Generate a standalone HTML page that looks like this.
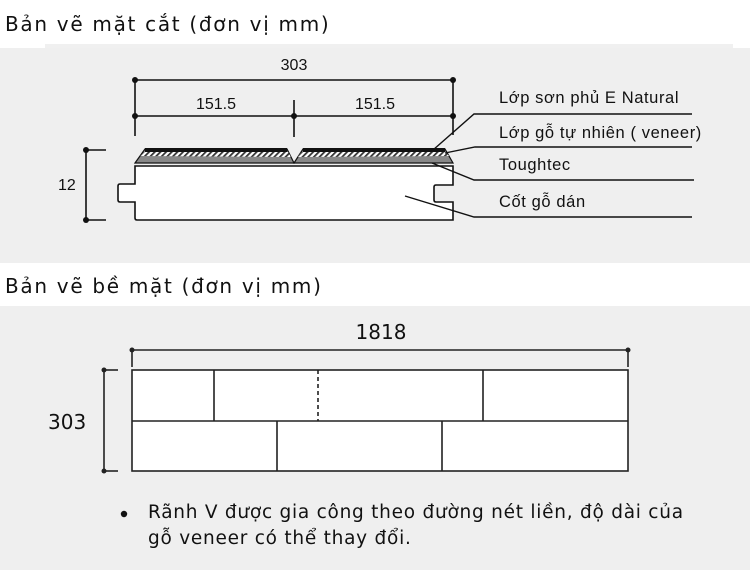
<!DOCTYPE html>
<html><head><meta charset="utf-8"><style>
html,body{margin:0;padding:0;background:#fff;}
svg{display:block;}
</style></head><body>
<svg width="750" height="570" viewBox="0 0 750 570" xmlns="http://www.w3.org/2000/svg">
<defs>
<pattern id="h" width="4" height="4" patternUnits="userSpaceOnUse" patternTransform="rotate(45)">
<rect width="4" height="4" fill="#fff"/><rect width="1.8" height="4" fill="#333"/>
</pattern>
</defs>
<rect x="45" y="44" width="688" height="6" fill="#f0f0f0"/>
<rect x="0" y="48" width="750" height="215" fill="#efefef"/>
<rect x="0" y="306" width="750" height="264" fill="#efefef"/>
<g font-family="'DejaVu Sans','Liberation Sans',sans-serif" fill="#111">
<text x="5" y="31" font-size="20" letter-spacing="1.7">Bản vẽ mặt cắt (đơn vị mm)</text>
<text x="5" y="293" font-size="20" letter-spacing="1.7">Bản vẽ bề mặt (đơn vị mm)</text>
</g>
<g stroke="#111" stroke-width="1.6" fill="none">
<line x1="135" y1="80" x2="453" y2="80"/>
<line x1="135" y1="116" x2="453" y2="116"/>
<line x1="135" y1="80" x2="135" y2="136"/>
<line x1="453" y1="80" x2="453" y2="135"/>
<line x1="294" y1="100" x2="294" y2="137"/>
<line x1="86" y1="150" x2="86" y2="220"/>
<line x1="86" y1="150" x2="106" y2="150"/>
<line x1="86" y1="220" x2="106" y2="220"/>
</g>
<g fill="#111">
<circle cx="135" cy="80" r="3"/><circle cx="453" cy="80" r="3"/>
<circle cx="135" cy="116" r="3"/><circle cx="453" cy="116" r="3"/><circle cx="294" cy="116" r="3"/>
<circle cx="86" cy="150" r="3"/><circle cx="86" cy="220" r="3"/>
</g>
<polygon points="135,163 145,149 287,149 294,163" fill="#888" stroke="#111" stroke-width="1.2"/>
<polygon points="294,163 303,149 445,149 453,163" fill="#888" stroke="#111" stroke-width="1.2"/>
<polygon points="140,156 144,152 288,152 291,157" fill="url(#h)"/>
<polygon points="297,157 301,152 446,152 449,156" fill="url(#h)"/>
<rect x="145" y="148" width="142" height="4" fill="#111"/>
<rect x="303" y="148" width="142" height="4" fill="#111"/>
<path d="M135,166 L453,166 L453,185 L436,185 Q434,185 434,187 L434,200 Q434,202 436,202 L453,202 L453,220 L137,220 Q135,220 135,218 L135,202 L120,202 Q118,202 118,200 L118,186 Q118,184 120,184 L135,184 Z" fill="#fff" stroke="#111" stroke-width="1.6"/>
<g stroke="#111" stroke-width="1.4" fill="none">
<polyline points="433,150 474,114 692,114"/>
<polyline points="445,153 475,147 692,147"/>
<polyline points="432,163 474,180 694,180"/>
<polyline points="405,196 474,217 692,217"/>
</g>
<g font-family="'Liberation Sans',sans-serif" font-size="16" fill="#111">
<text x="294" y="70" text-anchor="middle">303</text>
<text x="216" y="109" text-anchor="middle">151.5</text>
<text x="375" y="109" text-anchor="middle">151.5</text>
<text x="58" y="190">12</text>
<g font-size="16.5" letter-spacing="0.6">
<text x="499" y="103">Lớp sơn phủ E Natural</text>
<text x="499" y="138">Lớp gỗ tự nhiên ( veneer)</text>
<text x="499" y="170">Toughtec</text>
<text x="499" y="207">Cốt gỗ dán</text>
</g>
</g>
<g stroke="#222" stroke-width="1.6" fill="none">
<line x1="132" y1="350" x2="628" y2="350"/>
<line x1="132" y1="350" x2="132" y2="367"/>
<line x1="628" y1="350" x2="628" y2="367"/>
<line x1="104" y1="370" x2="104" y2="471"/>
<line x1="104" y1="370" x2="118" y2="370"/>
<line x1="104" y1="471" x2="118" y2="471"/>
<rect x="132" y="370" width="496" height="101" fill="#fff"/>
<line x1="132" y1="421" x2="628" y2="421"/>
<line x1="214" y1="370" x2="214" y2="421"/>
<line x1="483" y1="370" x2="483" y2="421"/>
<line x1="318" y1="370" x2="318" y2="421" stroke-dasharray="4,3"/>
<line x1="277" y1="421" x2="277" y2="471"/>
<line x1="442" y1="421" x2="442" y2="471"/>
</g>
<g fill="#222">
<circle cx="132" cy="350" r="2.5"/><circle cx="628" cy="350" r="2.5"/>
<circle cx="104" cy="370" r="2.5"/><circle cx="104" cy="471" r="2.5"/>
</g>
<g font-family="'DejaVu Sans','Liberation Sans',sans-serif" fill="#111">
<text x="381" y="339" font-size="20" text-anchor="middle">1818</text>
<text x="48" y="429" font-size="20">303</text>
<circle cx="124" cy="514" r="3.2"/>
<text x="148" y="518" font-size="18.5" letter-spacing="0.75">Rãnh V được gia công theo đường nét liền, độ dài của</text>
<text x="148" y="544" font-size="18.5" letter-spacing="0.75">gỗ veneer có thể thay đổi.</text>
</g>
</svg>
</body></html>
